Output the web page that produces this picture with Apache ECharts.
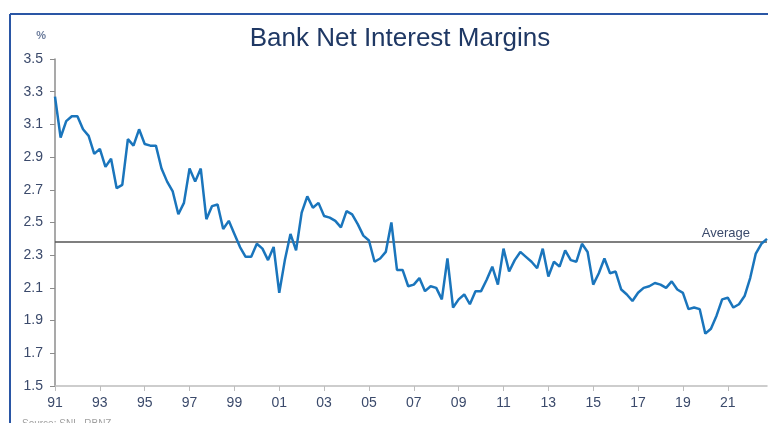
<!DOCTYPE html>
<html>
<head>
<meta charset="utf-8">
<script src="https://cdn.jsdelivr.net/npm/echarts@6/dist/echarts.min.js"></script>
<style>
html,body{margin:0;padding:0;background:#fff;}
#chart{width:768px;height:423px;}
</style>
</head>
<body>
<div id="chart"></div>
<script>
// Quarterly bank net interest margin (%), 1991Q1 .. 2022Q4
var startYear = 1991;
var nimValues = [
  3.27, 3.02, 3.12, 3.15,
  3.15, 3.07, 3.03, 2.92,
  2.95, 2.84, 2.89, 2.71,
  2.73, 3.01, 2.97, 3.07,
  2.98, 2.97, 2.97, 2.83,
  2.75, 2.69, 2.55, 2.62,
  2.83, 2.75, 2.83, 2.52,
  2.60, 2.61, 2.46, 2.51,
  2.43, 2.35, 2.29, 2.29,
  2.37, 2.34, 2.27, 2.35,
  2.07, 2.27, 2.43, 2.33,
  2.56, 2.66, 2.59, 2.62,
  2.54, 2.53, 2.51, 2.47,
  2.57, 2.55, 2.49, 2.42,
  2.39, 2.26, 2.28, 2.32,
  2.50, 2.21, 2.21, 2.11,
  2.12, 2.16, 2.08, 2.11,
  2.10, 2.03, 2.28, 1.98,
  2.03, 2.06, 2.00, 2.08,
  2.08, 2.15, 2.23, 2.12,
  2.34, 2.20, 2.27, 2.32,
  2.29, 2.26, 2.22, 2.34,
  2.17, 2.26, 2.23, 2.33,
  2.27, 2.26, 2.37, 2.32,
  2.12, 2.19, 2.28, 2.19,
  2.20, 2.09, 2.06, 2.02,
  2.07, 2.10, 2.11, 2.13,
  2.12, 2.10, 2.14, 2.09,
  2.07, 1.97, 1.98, 1.97,
  1.82, 1.85, 1.93, 2.03,
  2.04, 1.98, 2.00, 2.05,
  2.16, 2.31, 2.37, 2.40
];
var averageValue = 2.38;
var xTickLabels = ['91','93','95','97','99','01','03','05','07','09','11','13','15','17','19','21'];
var yTickValues = [1.5, 1.7, 1.9, 2.1, 2.3, 2.5, 2.7, 2.9, 3.1, 3.3, 3.5];

var categories = [];
for (var i = 0; i < nimValues.length; i++) {
  var y = startYear + Math.floor(i / 4);
  categories.push(y + 'Q' + (i % 4 + 1));
}
function isLabelIdx(idx) {
  if (idx % 4 !== 0) return false;
  var yy = String(startYear + idx / 4).slice(2);
  return xTickLabels.indexOf(yy) >= 0;
}

var chart = echarts.init(document.getElementById('chart'), null, {renderer: 'canvas'});
var textColor = '#3b4a6b';
var ff = 'Liberation Sans, Arial, sans-serif';
chart.setOption({
  animation: false,
  backgroundColor: '#ffffff',
  title: {
    text: 'Bank Net Interest Margins',
    left: 395, textAlign: 'center', top: 21,
    textStyle: {fontFamily: ff, fontSize: 26, fontWeight: 'normal', color: '#1f3864'}
  },
  grid: {left: 55, right: 1, top: 59, bottom: 37, containLabel: false},
  xAxis: {
    type: 'category',
    data: categories,
    boundaryGap: false,
    axisLine: {lineStyle: {color: '#bdbdbd', width: 1.5}},
    axisTick: {interval: function (idx) { return isLabelIdx(idx); }, length: 5, lineStyle: {color: '#bdbdbd'}},
    axisLabel: {
      interval: function (idx) { return isLabelIdx(idx); },
      formatter: function (v) { return v.slice(2, 4); },
      margin: 10,
      fontFamily: ff, fontSize: 14, color: textColor
    },
    splitLine: {show: false}
  },
  yAxis: {
    type: 'value',
    min: 1.5, max: 3.5,
    name: '%',
    nameLocation: 'end',
    nameGap: 18,
    nameTextStyle: {fontFamily: ff, fontSize: 11, fontWeight: 'bold', color: '#6b7b9b', align: 'right', padding: [0, 9, 0, 0]},
    axisLine: {show: true, lineStyle: {color: '#8c8c8c', width: 1.5}},
    axisTick: {show: true, length: 5, customValues: yTickValues, lineStyle: {color: '#8c8c8c'}},
    axisLabel: {
      customValues: yTickValues,
      formatter: function (v) { return Number(v).toFixed(1); },
      margin: 12,
      fontFamily: ff, fontSize: 14, color: textColor
    },
    splitLine: {show: false}
  },
  series: [{
    type: 'line',
    data: nimValues,
    symbol: 'none',
    lineStyle: {color: '#1a75bc', width: 2.5},
    z: 3,
    markLine: {
      silent: true,
      symbol: ['none', 'none'],
      lineStyle: {color: '#555555', width: 1.5, type: 'solid'},
      data: [{yAxis: averageValue}],
      label: {
        show: true,
        position: 'insideEndTop',
        formatter: 'Average',
        distance: [17, 2],
        fontFamily: ff, fontSize: 13, color: textColor
      },
      z: 2
    }
  }],
  graphic: [
    {type: 'line', shape: {x1: 10, y1: 14, x2: 768, y2: 14}, style: {stroke: '#2a56a5', lineWidth: 2}},
    {type: 'line', shape: {x1: 10, y1: 14, x2: 10, y2: 423}, style: {stroke: '#2a56a5', lineWidth: 2}},
    {type: 'text', left: 22, top: 419, style: {text: 'Source: SNL, RBNZ', fontFamily: ff, fontSize: 10, fill: '#a0a0a0'}}
  ]
});
</script>
</body>
</html>
